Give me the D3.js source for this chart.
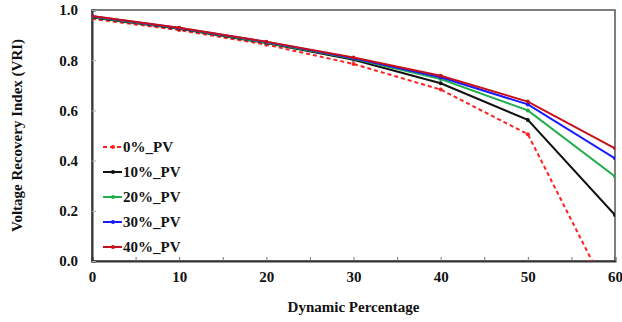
<!DOCTYPE html>
<html>
<head>
<meta charset="utf-8">
<script src="https://cdn.jsdelivr.net/npm/d3@7"></script>
<style>
  body { margin: 0; background: #fff; }
  text { font-family: "Liberation Serif", "Times New Roman", serif; font-weight: bold; }
</style>
</head>
<body>
<div id="chart"></div>
<script>
const xValues = [0, 10, 20, 30, 40, 50, 60];
const pv0 = [0.965, 0.920, 0.862, 0.785, 0.683, 0.505, -0.18];
const pv10 = [0.970, 0.925, 0.868, 0.802, 0.708, 0.562, 0.183];
const pv20 = [0.972, 0.927, 0.870, 0.806, 0.725, 0.600, 0.337];
const pv30 = [0.975, 0.928, 0.873, 0.808, 0.732, 0.624, 0.409];
const pv40 = [0.976, 0.929, 0.874, 0.811, 0.738, 0.635, 0.449];
const seriesNames = ['0%_PV', '10%_PV', '20%_PV', '30%_PV', '40%_PV'];
const xTicks = [0, 10, 20, 30, 40, 50, 60];
const yTicks = [0.0, 0.2, 0.4, 0.6, 0.8, 1.0];

const series = [
  {name: seriesNames[0], values: pv0, color: '#ff2020', dash: '4,3'},
  {name: seriesNames[1], values: pv10, color: '#111111', dash: null},
  {name: seriesNames[2], values: pv20, color: '#1fae4a', dash: null},
  {name: seriesNames[3], values: pv30, color: '#1a1aff', dash: null},
  {name: seriesNames[4], values: pv40, color: '#c8101a', dash: null}
];

let margin = {top: 10, right: 7, bottom: 61, left: 92};
let elWidth = 622, elHeight = 322;
let width = elWidth - margin.left - margin.right;
let height = elHeight - margin.top - margin.bottom;

let svg = d3.select('#chart').append('svg')
  .attr('width', elWidth)
  .attr('height', elHeight);

svg.append('defs').append('clipPath').attr('id', 'plotclip')
  .append('rect').attr('width', width).attr('height', height);

let g = svg.append('g').attr('transform', 'translate(' + margin.left + ',' + margin.top + ')');

let x = d3.scaleLinear().domain([0, 60]).range([0, width]);
let y = d3.scaleLinear().domain([0, 1]).range([height, 0]);

// frame
g.append('rect')
  .attr('width', width).attr('height', height)
  .attr('fill', 'none').attr('stroke', '#555').attr('stroke-width', 1.5);

// x axis (ticks inward)
let xAxis = g.append('g')
  .attr('transform', 'translate(0,' + height + ')')
  .call(d3.axisBottom(x).tickValues(d3.range(0, 61, 5)).tickSize(-4).tickPadding(10)
    .tickFormat(d => xTicks.includes(d) ? d : ''));
xAxis.select('.domain').attr('stroke', '#333').attr('stroke-width', 2);
xAxis.selectAll('.tick line').attr('stroke', '#777');
xAxis.selectAll('.tick text').attr('font-size', 15).attr('fill', '#111')
  .attr('font-family', '"Liberation Serif", serif').attr('font-weight', 'bold');

// y axis
let yAxis = g.append('g')
  .call(d3.axisLeft(y).tickValues(yTicks).tickSize(-4).tickPadding(14).tickFormat(d3.format('.1f')));
yAxis.select('.domain').attr('stroke', '#333').attr('stroke-width', 2);
yAxis.selectAll('.tick line').attr('stroke', '#aaa');
yAxis.selectAll('.tick text').attr('font-size', 15).attr('fill', '#111')
  .attr('font-family', '"Liberation Serif", serif').attr('font-weight', 'bold');

// lines
let line = d3.line()
  .x((d, i) => x(xValues[i]))
  .y(d => y(d));

let plot = g.append('g').attr('clip-path', 'url(#plotclip)');
series.forEach(s => {
  plot.append('path')
    .datum(s.values)
    .attr('fill', 'none')
    .attr('stroke', s.color)
    .attr('stroke-width', 2)
    .attr('stroke-dasharray', s.dash)
    .attr('d', line);
  plot.selectAll(null)
    .data(s.values)
    .enter().append('circle')
    .attr('cx', (d, i) => x(xValues[i]))
    .attr('cy', d => y(d))
    .attr('r', 2)
    .attr('fill', s.color);
});

// legend
let legend = g.append('g').attr('transform', 'translate(11,137)');
series.forEach((s, i) => {
  let row = legend.append('g').attr('transform', 'translate(0,' + (i * 25) + ')');
  row.append('line')
    .attr('x1', 0).attr('x2', 19).attr('y1', 0).attr('y2', 0)
    .attr('stroke', s.color).attr('stroke-width', 2)
    .attr('stroke-dasharray', s.dash);
  row.append('circle').attr('cx', 10).attr('cy', 0).attr('r', 2).attr('fill', s.color);
  row.append('text')
    .attr('x', 20).attr('y', 0).attr('dy', '0.35em')
    .attr('font-size', 15).attr('fill', '#111')
    .text(s.name);
});

// axis titles
svg.append('text')
  .attr('x', margin.left + width / 2).attr('y', 312)
  .attr('text-anchor', 'middle').attr('font-size', 15).attr('fill', '#111')
  .text('Dynamic Percentage');

svg.append('text')
  .attr('transform', 'translate(22,' + (margin.top + height / 2) + ') rotate(-90)')
  .attr('text-anchor', 'middle').attr('font-size', 15).attr('fill', '#111')
  .text('Voltage Recovery Index (VRI)');
</script>
</body>
</html>
